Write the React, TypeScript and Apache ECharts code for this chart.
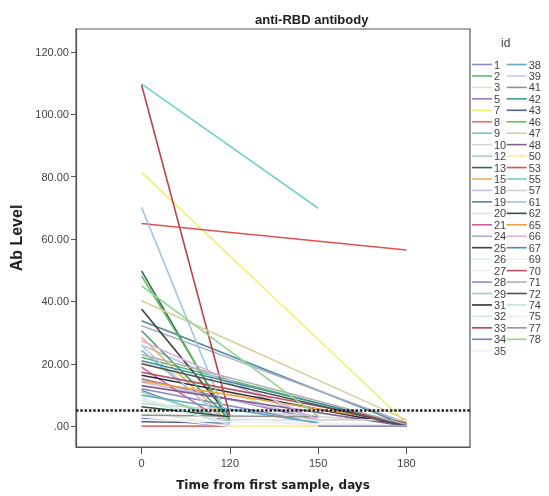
import React, { useEffect, useRef } from "react";
import * as echarts from "echarts";

const days = ["0", "120", "150", "180"];
const yTicks = [0, 20, 40, 60, 80, 100, 120];
const cutoff = 5;

const ids = [1, 2, 3, 5, 7, 8, 9, 10, 12, 13, 15, 18, 19, 20, 21, 24, 25, 26, 27, 28, 29, 31, 32, 33, 34, 35,
  38, 39, 41, 42, 43, 46, 47, 48, 50, 53, 55, 57, 61, 62, 65, 66, 67, 69, 70, 71, 72, 74, 75, 77, 78];

const day0 = [11.5, 22.1, 20.5, 15.2, 81.4, 0, 24.3, 7.2, 26, 49.8, 28.5, 14.1, 33.8, 5, 18.9, 32.2, 37.6, 9, 4, 12, 10.9, 16.3, null, 109.5, 2.5, 6,
  9.9, 25.8, 3.5, 30.6, 1.4, 48.2, 40.2, 13, null, 65, 109.8, null, 70.2, 6.2, 14.5, 27.4, 21, 3, 17.3, 23, 20, 8.3, 2, null, 45];
const day120 = [1, null, null, null, null, 0, 1, null, null, 1, 1, null, null, 0, 0, null, 3, 1, null, null, 2, null, 2, 3.5, 0, null,
  null, 0, null, 2, 1, 2, null, null, 0, null, null, null, 0.5, 3, null, null, null, 0, null, null, null, 0.5, null, null, null];
const day150 = [null, null, 1, 2, null, null, null, null, 1.5, null, null, 3, null, null, null, null, null, null, null, 1, null, null, 2, null, null, 0,
  1, null, 3, null, null, null, null, null, 0, null, 69.9, 2, null, null, null, 2, null, null, null, null, null, null, null, 0, 3.2];
const day180 = [null, 0, null, null, 1, null, null, 1, null, null, null, null, 0.3, null, null, 1, null, null, 0, null, null, 0, null, null, null, null,
  null, null, null, null, null, null, 2, 0, null, 56.5, null, 2, null, null, 1, null, 0.5, null, 1, 0.5, 0, null, 0, 0, null];

const colors = ["#8a8ac8", "#5cb870", "#e0e8b8", "#9a78b8", "#f0f070", "#e07070", "#70c4d0", "#d4d4d4", "#b4c4dc", "#2e6e4e",
  "#f0b060", "#c8c0e0", "#4f8aa0", "#d8f0d8", "#d060a0", "#a8b0c8", "#404040", "#d8eef0", "#f0f0f0", "#8c8cc4",
  "#90d8a8", "#303040", "#d4e4f4", "#c04048", "#7080d0", "#f0f0f0",
  "#60a8c4", "#d0c8e0", "#909090", "#40a080", "#506090", "#60c060", "#d8d0a0", "#806090", "#f8f0a0", "#e05050",
  "#70d0cc", "#d0d0d0", "#a0c4e4", "#305040", "#f0a040", "#e0b0e0", "#4090a0", "#f0f0f0", "#b05060", "#b0b0b0",
  "#505050", "#c0e8d8", "#f0f0f0", "#9090c8", "#90d890"];

export default function App() {
  const ref = useRef<HTMLDivElement>(null);
  useEffect(() => {
    const chart = echarts.init(ref.current!, null, { renderer: "svg" });
    const series: any[] = ids.map((id, i) => {
      const vals = [day0[i], day120[i], day150[i], day180[i]];
      const data = vals
        .map((v, k) => (v === null ? null : [k, v]))
        .filter((d) => d !== null);
      return {
        name: String(id),
        type: "line",
        data,
        symbol: "none",
        lineStyle: { color: colors[i], width: 1.6 },
        itemStyle: { color: colors[i] },
        emphasis: { disabled: true },
        silent: true,
      };
    });
    series.push({
      name: "cutoff",
      type: "line",
      data: [],
      markLine: {
        silent: true,
        symbol: "none",
        label: { show: false },
        lineStyle: { color: "#222", type: [2.5, 1.8], width: 2.5 },
        data: [{ yAxis: cutoff }],
      },
    });
    chart.setOption({
      animation: false,
      title: [
        {
          text: "anti-RBD antibody",
          left: 255,
          top: 13,
          padding: 0,
          textStyle: { fontFamily: "Liberation Sans", fontWeight: "bold", fontSize: 13, color: "#222" },
        },
        {
          text: "id",
          left: 501,
          top: 37,
          padding: 0,
          textStyle: { fontFamily: "Liberation Sans", fontWeight: "normal", fontSize: 12, color: "#444" },
        },
      ],
      legend: {
        data: ids.map(String),
        orient: "vertical",
        left: 472,
        top: 59,
        height: 300,
        padding: 0,
        itemWidth: 20,
        itemHeight: 11,
        itemGap: 0.45,
        selectedMode: false,
        icon: "path://M0,0 L20,0 L20,1.6 L0,1.6 Z",
        textStyle: { fontFamily: "Liberation Sans", fontSize: 11, color: "#444", lineHeight: 11, padding: [0, 0, 0, -3] },
      },
      grid: {
        left: 73,
        top: 29,
        right: 79,
        bottom: 47,
        show: true,
        borderColor: "#555",
        borderWidth: 1.2,
      },
      xAxis: {
        type: "value",
        min: -0.742,
        max: 3.719,
        name: "Time from first sample, days",
        nameLocation: "middle",
        nameGap: 32,
        nameTextStyle: { fontFamily: "DejaVu Sans", fontWeight: "bold", fontSize: 12, color: "#222" },
        splitLine: { show: false },
        axisLine: { show: true, onZero: false, lineStyle: { color: "#555", width: 1.2 } },
        axisTick: { show: true, length: 7, customValues: [0, 1, 2, 3], lineStyle: { color: "#555" } },
        axisLabel: {
          customValues: [0, 1, 2, 3],
          formatter: (v: number) => days[Math.round(v)] ?? "",
          margin: 10,
          fontFamily: "Liberation Sans",
          fontSize: 11,
          color: "#444",
        },
      },
      yAxis: {
        type: "value",
        min: -6.7,
        max: 127.4,
        name: "Ab Level",
        nameLocation: "middle",
        nameGap: 52,
        nameTextStyle: { fontFamily: "Liberation Sans", fontWeight: "bold", fontSize: 16, color: "#222" },
        splitLine: { show: false },
        axisLine: { show: true, onZero: false, lineStyle: { color: "#555", width: 1.2 } },
        axisTick: { show: true, length: 5, customValues: yTicks, lineStyle: { color: "#555" } },
        axisLabel: {
          customValues: yTicks,
          formatter: (v: number) => (v === 0 ? ".00" : v.toFixed(2)),
          margin: 7,
          fontFamily: "Liberation Sans",
          fontSize: 11,
          color: "#444",
        },
      },
      series,
    });
    return () => chart.dispose();
  }, []);
  return <div ref={ref} style={{ position: "fixed", left: 0, top: 0, width: 549, height: 496 }} />;
}
